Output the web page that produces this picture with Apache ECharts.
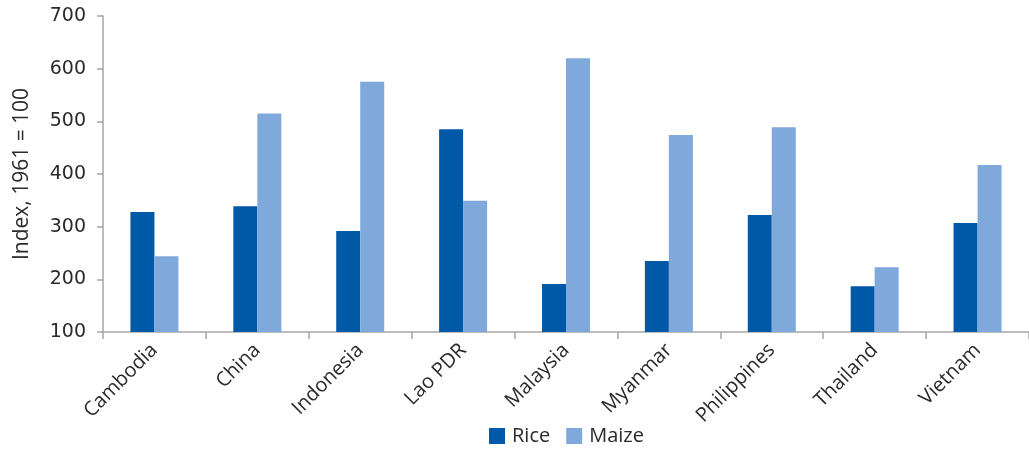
<!DOCTYPE html>
<html>
<head>
<meta charset="utf-8">
<script src="https://cdn.jsdelivr.net/npm/echarts@6/dist/echarts.min.js"></script>
<style>
  html, body { margin: 0; padding: 0; background: #fff; overflow: hidden; }
  #chart { width: 1029px; height: 449px; }
</style>
</head>
<body>
<div id="chart"></div>
<script>
// Yield index by country, 1961 = 100
const countries = ['Cambodia', 'China', 'Indonesia', 'Lao PDR', 'Malaysia', 'Myanmar', 'Philippines', 'Thailand', 'Vietnam'];
const rice  = [328, 339, 292, 485, 191, 235, 322, 187, 307];
const maize = [244, 515, 575, 349, 620, 474, 489, 223, 417];
const yTicks = [100, 200, 300, 400, 500, 600, 700];

const FONT = 'Open Sans';
const NUM_FONT = 'DejaVu Sans';
const TEXT = '#2a2a2a';
const AXIS = '#a6a6a6';

const chart = echarts.init(document.getElementById('chart'));
chart.setOption({
  animation: false,
  textStyle: { fontFamily: FONT },
  grid: { left: 103, right: -4, top: 16, bottom: 117 },
  legend: {
    data: ['Rice', 'Maize'],
    left: 489,
    top: 426,
    padding: 0,
    itemWidth: 16,
    itemHeight: 16,
    itemGap: 16,
    icon: 'rect',
    textStyle: { fontFamily: FONT, fontSize: 20, color: TEXT, padding: [0, 0, 0, 2] }
  },
  xAxis: {
    type: 'category',
    data: countries,
    axisLine: { lineStyle: { color: AXIS, width: 1.5 } },
    axisTick: { show: true, length: 7, lineStyle: { color: AXIS, width: 1.5 } },
    axisLabel: {
      rotate: 45,
      interval: 0,
      margin: 15,
      fontFamily: FONT,
      fontSize: 20,
      color: TEXT
    }
  },
  yAxis: {
    type: 'value',
    min: yTicks[0],
    max: yTicks[yTicks.length - 1],
    interval: 100,
    name: 'Index, 1961 = 100',
    nameLocation: 'middle',
    nameGap: 70,
    nameRotate: 90,
    nameTextStyle: { fontFamily: FONT, fontSize: 21, color: TEXT },
    axisLine: { show: true, lineStyle: { color: AXIS, width: 1.5 } },
    axisTick: { show: true, length: 6, lineStyle: { color: AXIS, width: 1.5 } },
    splitLine: { show: false },
    axisLabel: { fontFamily: NUM_FONT, fontSize: 19, color: TEXT, margin: 17 }
  },
  series: [
    {
      name: 'Rice',
      type: 'bar',
      data: rice,
      barWidth: 24,
      barGap: '0%',
      itemStyle: { color: '#0059a6' }
    },
    {
      name: 'Maize',
      type: 'bar',
      data: maize,
      barWidth: 24,
      barGap: '0%',
      itemStyle: { color: '#7fa9da' }
    }
  ]
});
</script>
</body>
</html>
